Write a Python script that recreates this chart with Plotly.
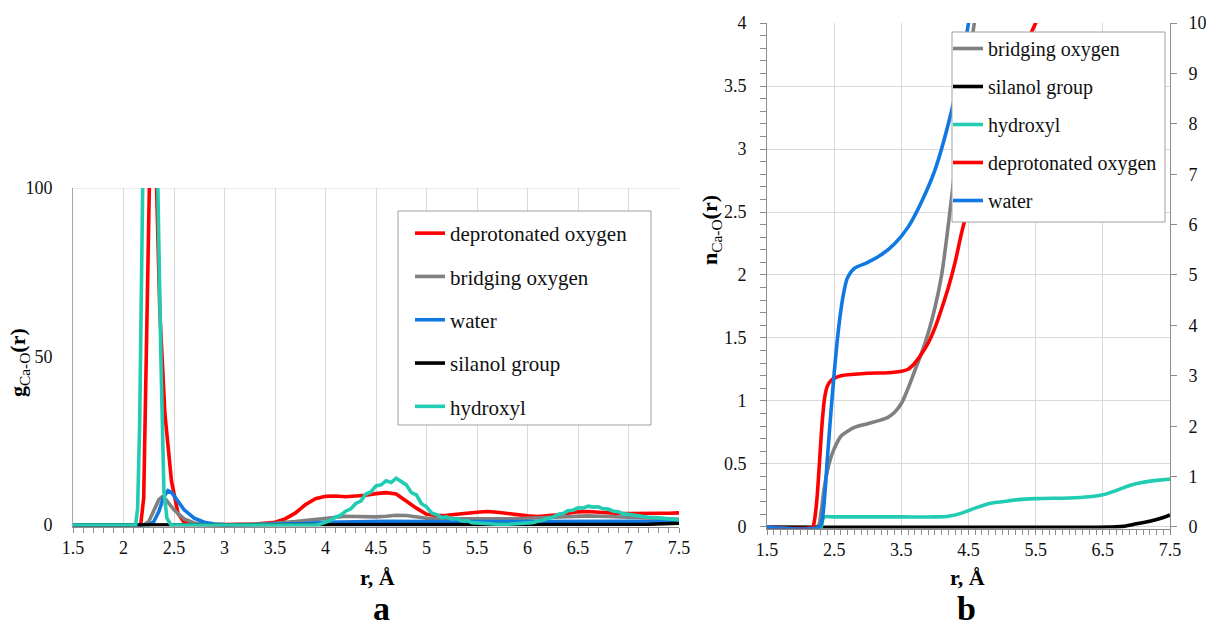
import plotly.graph_objects as go

FONT = "Liberation Serif"
W, H = 1206, 629

# ---------------- Panel a : g_Ca-O(r) ----------------
r_dep_a = [1.5, 2.1, 2.17, 2.2, 2.23, 2.25, 2.28, 2.31, 2.33, 2.36,
           2.41, 2.475, 2.54, 2.6, 2.7, 2.8, 3.0, 3.3, 3.5, 3.6,
           3.7, 3.8, 3.9, 4.0, 4.1, 4.2, 4.3, 4.4, 4.5, 4.6,
           4.7, 4.8, 4.9, 5.0, 5.1, 5.2, 5.3, 5.4, 5.5, 5.6,
           5.7, 5.8, 5.9, 6.0, 6.1, 6.2, 6.3, 6.4, 6.5, 6.6,
           6.7, 6.8, 6.9, 7.0, 7.1, 7.2, 7.3, 7.4, 7.5]
g_dep_a = [0, 0, 0, 8, 55, 100, 140, 120, 100, 63,
           33, 13, 3.5, 0.8, 0.2, 0.1, 0.1, 0.3, 0.8, 1.8,
           3.5, 6.0, 7.8, 8.5, 8.6, 8.4, 8.6, 8.8, 9.3, 9.6,
           9.2, 7.0, 5.0, 3.2, 2.8, 2.9, 3.1, 3.5, 3.8, 4.0,
           3.8, 3.4, 3.0, 2.7, 2.5, 2.7, 3.0, 3.5, 3.9, 4.0,
           3.8, 3.5, 3.4, 3.4, 3.5, 3.5, 3.5, 3.5, 3.6]

r_bri_a = [1.5, 2.2, 2.25, 2.3, 2.35, 2.38, 2.42, 2.5, 2.6, 2.7,
           2.8, 3.0, 3.3, 3.5, 3.7, 3.9, 4.0, 4.1, 4.2, 4.3,
           4.4, 4.5, 4.6, 4.7, 4.8, 4.9, 5.0, 5.2, 5.5, 5.8,
           6.0, 6.2, 6.4, 6.6, 6.8, 7.0, 7.2, 7.5]
g_bri_a = [0, 0, 1, 4, 7.5, 8.3, 7.5, 4.5, 1.8, 0.6,
           0.2, 0, 0.2, 0.5, 1.0, 1.6, 2.0, 2.4, 2.6, 2.5,
           2.4, 2.4, 2.6, 2.9, 2.8, 2.4, 2.0, 1.8, 1.7, 1.8,
           2.0, 2.3, 2.6, 2.7, 2.5, 2.2, 2.0, 1.7]

r_wat_a = [1.5, 2.25, 2.3, 2.35, 2.4, 2.44, 2.48, 2.55, 2.6, 2.7,
           2.8, 2.9, 3.0, 3.2, 3.6, 3.8, 4.0, 4.3, 4.6, 5.0,
           5.5, 6.0, 6.5, 7.0, 7.5]
g_wat_a = [0, 0, 1, 4, 8.5, 10.2, 9.5, 6.5, 4.5, 2,
           0.8, 0.3, 0.1, 0, 0.1, 0.4, 0.8, 1.0, 1.1, 1.0,
           1.0, 1.1, 1.2, 1.1, 0.9]

r_sil_a = [1.5, 7.0, 7.2, 7.5]
g_sil_a = [0, 0, 0.2, 0.5]

r_hyd_a = [1.5, 2.12, 2.14, 2.16, 2.19, 2.22, 2.26, 2.3, 2.34, 2.37,
           2.4, 2.43, 2.47, 3.0, 3.9, 3.95, 4.0, 4.05, 4.1, 4.15,
           4.2, 4.25, 4.3, 4.35, 4.4, 4.45, 4.5, 4.55, 4.6, 4.65,
           4.7, 4.75, 4.8, 4.85, 4.9, 4.95, 5.0, 5.05, 5.1, 5.15,
           5.2, 5.25, 5.3, 5.35, 5.4, 5.45, 5.5, 5.6, 5.7, 5.8,
           5.9, 6.0, 6.05, 6.1, 6.15, 6.2, 6.25, 6.3, 6.35, 6.4,
           6.45, 6.5, 6.55, 6.6, 6.65, 6.7, 6.75, 6.8, 6.85, 6.9,
           6.95, 7.0, 7.1, 7.2, 7.3, 7.4, 7.5]
g_hyd_a = [0, 0, 5, 30, 100, 150, 170, 150, 100, 50,
           10, 2, 0, 0, 0, 0.3, 0.9, 1.4, 2.3, 2.9,
           4.1, 4.8, 6.4, 7.1, 9.2, 9.8, 11.6, 11.9, 13.1, 12.6,
           13.9, 12.8, 11.9, 9.6, 8.9, 6.3, 5.4, 3.6, 3.1, 2.2,
           2.4, 1.7, 1.9, 1.2, 1.3, 0.7, 0.6, 0.3, 0.2, 0.2,
           0.3, 0.5, 0.7, 1.1, 1.4, 2.0, 2.3, 3.1, 3.4, 4.2,
           4.4, 5.1, 5.0, 5.6, 5.3, 5.4, 4.8, 4.7, 4.1, 3.9,
           3.3, 3.2, 2.7, 2.3, 2.1, 1.8, 1.5]

# ---------------- Panel b : n_Ca-O(r) ----------------
# left axis (0-4)
r_bri_b = [1.5, 2.25, 2.3, 2.35, 2.4, 2.45, 2.5, 2.6, 2.7, 2.8,
           3.0, 3.2, 3.3, 3.4, 3.5, 3.6, 3.7, 3.8, 3.9, 4.0,
           4.1, 4.2, 4.3, 4.4, 4.5, 4.6, 4.7]
n_bri_b = [0, 0, 0.1, 0.3, 0.45, 0.55, 0.62, 0.72, 0.76, 0.79,
           0.82, 0.85, 0.87, 0.91, 0.98, 1.1, 1.24, 1.38, 1.54, 1.74,
           2.0, 2.4, 2.85, 3.28, 3.68, 4.05, 4.4]

r_sil_b = [1.5, 6.6, 6.8, 7.0, 7.2, 7.4, 7.5]
n_sil_b = [0, 0, 0.005, 0.025, 0.045, 0.075, 0.095]

r_hyd_b = [1.5, 2.3, 2.33, 2.36, 2.5, 3.0, 3.5, 4.0, 4.2, 4.4,
           4.6, 4.8, 5.0, 5.2, 5.5, 6.0, 6.3, 6.5, 6.7, 6.9,
           7.1, 7.3, 7.5]
n_hyd_b = [0, 0, 0.06, 0.08, 0.08, 0.08, 0.08, 0.08, 0.085, 0.11,
           0.15, 0.185, 0.2, 0.215, 0.225, 0.23, 0.24, 0.255, 0.29, 0.33,
           0.355, 0.37, 0.38]

# right axis (0-10)
r_dep_b = [1.5, 2.18, 2.2, 2.24, 2.28, 2.32, 2.36, 2.4, 2.45, 2.5,
           2.6, 2.8, 3.0, 3.3, 3.5, 3.6, 3.7, 3.8, 3.9, 4.0,
           4.1, 4.2, 4.3, 4.4, 4.6, 4.8, 5.0, 5.2, 5.5, 5.7]
n_dep_b = [0, 0, 0.08, 0.5, 1.25, 2.05, 2.58, 2.8, 2.9, 2.95,
           3.0, 3.03, 3.05, 3.06, 3.09, 3.13, 3.25, 3.43, 3.65, 3.95,
           4.33, 4.75, 5.25, 5.85, 6.88, 7.75, 8.5, 9.13, 10.0, 10.6]

r_wat_b = [1.5, 2.28, 2.32, 2.36, 2.4, 2.45, 2.5, 2.55, 2.6, 2.65,
           2.7, 2.8, 3.0, 3.2, 3.4, 3.6, 3.8, 4.0, 4.2, 4.4,
           4.5, 4.6]
n_wat_b = [0, 0, 0.13, 0.63, 1.38, 2.25, 3.05, 3.75, 4.3, 4.7,
           4.95, 5.13, 5.25, 5.4, 5.62, 5.95, 6.45, 7.08, 8.0, 9.2,
           10.0, 10.8]

x_ticks_a = [1.5, 2, 2.5, 3, 3.5, 4, 4.5, 5, 5.5, 6, 6.5, 7, 7.5]
y_ticks_a = [0, 50, 100]
x_ticks_b = [1.5, 2.5, 3.5, 4.5, 5.5, 6.5, 7.5]

RED, GRAY, BLUE, BLACK, TEAL = "#ff0000", "#808080", "#0f78e2", "#000000", "#22ccb2"
LW = 3.6

fig = go.Figure()

# panel a traces
for name, xs, ys, col in [
    ("deprotonated oxygen", r_dep_a, g_dep_a, RED),
    ("bridging oxygen", r_bri_a, g_bri_a, GRAY),
    ("water", r_wat_a, g_wat_a, BLUE),
    ("silanol group", r_sil_a, g_sil_a, BLACK),
    ("hydroxyl", r_hyd_a, g_hyd_a, TEAL),
]:
    fig.add_trace(go.Scatter(x=xs, y=ys, mode="lines", name=name,
                             line=dict(color=col, width=LW),
                             xaxis="x", yaxis="y", legend="legend",
                             legendgroup="a_" + name))

# panel b traces
for name, xs, ys, col, ax in [
    ("bridging oxygen", r_bri_b, n_bri_b, GRAY, "y2"),
    ("silanol group", r_sil_b, n_sil_b, BLACK, "y2"),
    ("hydroxyl", r_hyd_b, n_hyd_b, TEAL, "y2"),
    ("deprotonated oxygen", r_dep_b, n_dep_b, RED, "y3"),
    ("water", r_wat_b, n_wat_b, BLUE, "y3"),
]:
    fig.add_trace(go.Scatter(x=xs, y=ys, mode="lines", name=name,
                             line=dict(color=col, width=LW, shape="spline", smoothing=0.9),
                             xaxis="x2", yaxis=ax, legend="legend2",
                             legendgroup="b_" + name))

GRID = "#d9d9d9"
AXL = "#8c8c8c"
tickfont = dict(family=FONT, size=18, color="#111111")

fig.update_layout(
    width=W, height=H, autosize=False,
    margin=dict(l=0, r=0, t=0, b=0, pad=0),
    paper_bgcolor="white", plot_bgcolor="white",
    font=dict(family=FONT, size=18, color="#111111"),
    xaxis=dict(domain=[73 / W, 679 / W], range=[1.5, 7.5], tickvals=x_ticks_a,
               showgrid=True, gridcolor=GRID, gridwidth=1, zeroline=False,
               showline=True, linecolor=AXL, linewidth=1,
               ticks="outside", ticklen=5, tickcolor=AXL,
               minor=dict(dtick=0.1, tick0=1.5, ticks="outside", ticklen=5, tickcolor=AXL, showgrid=False),
               tickfont=tickfont, anchor="y", automargin=False),
    yaxis=dict(domain=[1 - 526.5 / H, 1 - 188 / H], range=[-0.45, 100], tickvals=y_ticks_a,
               showgrid=False, zeroline=False, showline=True, linecolor="#a6a6a6", linewidth=1,
               ticks="", ticklabelstandoff=16, tickfont=tickfont, anchor="x", automargin=False),
    xaxis2=dict(domain=[767 / W, 1170 / W], range=[1.5, 7.5], tickvals=x_ticks_b,
                showgrid=True, gridcolor=GRID, gridwidth=1, zeroline=False,
                showline=True, linecolor=AXL, linewidth=1,
                ticks="outside", ticklen=5, tickcolor=AXL,
                minor=dict(dtick=0.1, tick0=1.5, ticks="outside", ticklen=5, tickcolor=AXL, showgrid=False),
                tickfont=tickfont, anchor="y2", automargin=False),
    yaxis2=dict(domain=[1 - 528.5 / H, 1 - 23 / H], range=[-0.012, 4], dtick=0.5, tick0=0,
                showgrid=True, gridcolor=GRID, gridwidth=1, zeroline=False,
                showline=True, linecolor=AXL, linewidth=1,
                ticks="outside", ticklen=6, tickcolor=AXL,
                minor=dict(dtick=0.1, ticks="outside", ticklen=6, tickcolor=AXL, showgrid=False),
                ticklabelstandoff=10, tickfont=tickfont, anchor="x2", automargin=False),
    yaxis3=dict(range=[-0.03, 10], dtick=1, tick0=0, overlaying="y2", side="right",
                showgrid=False, zeroline=False, showline=True, linecolor=AXL, linewidth=1,
                ticks="outside", ticklen=6, tickcolor=AXL, ticklabelstandoff=8,
                tickfont=tickfont, anchor="x2", automargin=False),
    legend=dict(x=410 / W, y=1 - 213 / H, xanchor="left", yanchor="top",
                bgcolor="rgba(0,0,0,0)", borderwidth=0,
                font=dict(family=FONT, size=21, color="#111111"),
                traceorder="grouped", tracegroupgap=13, itemwidth=30),
    legend2=dict(x=948 / W, y=1 - 29 / H, xanchor="left", yanchor="top",
                 bgcolor="rgba(0,0,0,0)", borderwidth=0,
                 font=dict(family=FONT, size=20, color="#111111"),
                 traceorder="grouped", tracegroupgap=9, itemwidth=30),
    showlegend=True,
)

# top border line of panel a
fig.add_shape(type="line", xref="x domain", yref="y", x0=0, x1=1, y0=100, y1=100,
              line=dict(color=GRID, width=1), layer="below")
# legend frames
fig.add_shape(type="rect", xref="paper", yref="paper",
              x0=398 / W, x1=651 / W, y0=1 - 425 / H, y1=1 - 211 / H,
              fillcolor="white", line=dict(color="#a0a0a0", width=1), layer="above")
fig.add_shape(type="rect", xref="paper", yref="paper",
              x0=952 / W, x1=1165 / W, y0=1 - 222 / H, y1=1 - 32 / H,
              fillcolor="white", line=dict(color="#a0a0a0", width=1), layer="above")

ann = [
    ("<b>g</b><sub>Ca-O</sub><b>(r)</b>", 19, 363, 22, -90, "middle"),
    ("<b>n</b><sub>Ca-O</sub><b>(r)</b>", 711, 230, 22, -90, "middle"),
    ("<b>r, Å</b>", 377, 577, 22, 0, "middle"),
    ("<b>r, Å</b>", 967, 577, 22, 0, "middle"),
    ("<b>a</b>", 381, 629, 34, 0, "bottom"),
    ("<b>b</b>", 966, 629, 34, 0, "bottom"),
]
for text, xp, yp, size, ang, ya in ann:
    fig.add_annotation(text=text, xref="paper", yref="paper", x=xp / W, y=1 - yp / H,
                       xanchor="center", yanchor=ya, showarrow=False, textangle=ang,
                       font=dict(family=FONT, size=size, color="#000000"))

fig.write_html("out.html", config={"displayModeBar": False},
               post_script="document.body.style.margin='0px';document.body.style.padding='0px';")
